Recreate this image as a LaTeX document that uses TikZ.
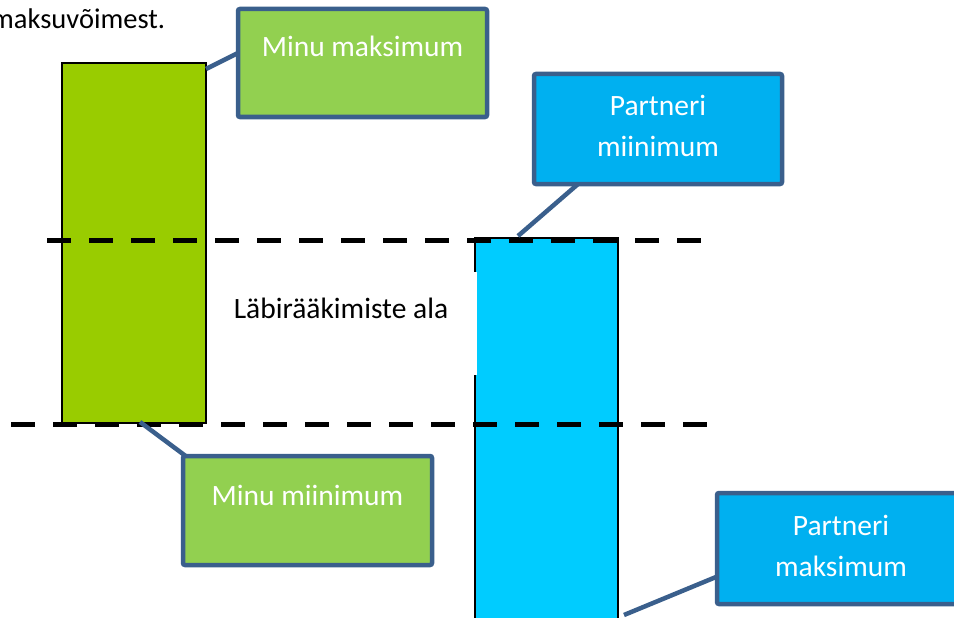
\documentclass[tikz,border=0pt]{standalone}
\usepackage{fontspec}
\setmainfont{Carlito}
\definecolor{barGreen}{HTML}{99CC00}
\definecolor{barBlue}{HTML}{00CCFF}
\definecolor{boxGreen}{HTML}{92D050}
\definecolor{boxBlue}{HTML}{00B0F0}
\definecolor{outline}{HTML}{3A5F8C}
\tikzset{
  bar/.style={draw=black, line width=1.5pt, inner sep=0pt, outer sep=0pt},
  callout/.style={draw=outline, line width=4.5pt, rounded corners=2pt, inner sep=0pt, outer sep=0pt},
  lbl/.style={font=\fontsize{29.5}{35}\selectfont, text=white, anchor=base, inner sep=0pt},
  plain/.style={font=\fontsize{29.5}{35}\selectfont, text=black, inner sep=0pt},
  conn/.style={draw=outline, line width=4.5pt},
  dline/.style={draw=black, line width=5pt, dash pattern=on 24pt off 18pt}
}
\begin{document}
\begin{tikzpicture}[x=1pt,y=-1pt]
\useasboundingbox (0,0) rectangle (954,618);
% top text
\node[plain, anchor=base west] (toptext) at (-9,29) {\fontsize{28.5}{34}\selectfont maksuvõimest.};
% bars
\node[bar, fill=barGreen, minimum width=144pt, minimum height=360pt] (gbar) at (134,243) {};
\node[bar, fill=barBlue, minimum width=143pt, minimum height=410pt] (bbar) at (546.5,443) {};
% negotiation zone text cover
\node[fill=white, inner sep=0pt, minimum width=270pt, minimum height=103pt] (zone) at (342,323.5) {};
\node[plain, anchor=base] (zonetext) at (341,318) {Läbirääkimiste ala};
% dashed lines
\coordinate (t1) at (47,240);
\coordinate (t2) at (701,240);
\coordinate (b1) at (11,424);
\coordinate (b2) at (708,424);
\draw[dline] (t1) -- (t2);
\draw[dline] (b1) -- (b2);
% connectors
\coordinate (c1a) at (206,69);
\coordinate (c1b) at (240,52);
\coordinate (c2a) at (518,236);
\coordinate (c2b) at (585,178);
\coordinate (c3a) at (140,422);
\coordinate (c3b) at (187,457);
\coordinate (c4a) at (624,615);
\coordinate (c4b) at (716,577);
\draw[conn] (c1a) -- (c1b);
\draw[conn] (c2a) -- (c2b);
\draw[conn] (c3a) -- (c3b);
\draw[conn] (c4a) -- (c4b);
% callout boxes
\node[callout, fill=boxGreen, minimum width=249pt, minimum height=108pt] (mmax) at (362.5,63) {};
\node[lbl] (mmaxt) at (362.5,57) {Minu maksimum};
\node[callout, fill=boxBlue, minimum width=248pt, minimum height=110pt] (pmin) at (658,129) {};
\node[lbl] (pmint1) at (658,115) {Partneri};
\node[lbl] (pmint2) at (658,156) {miinimum};
\node[callout, fill=boxGreen, minimum width=249pt, minimum height=109pt] (mmin) at (307.5,510.5) {};
\node[lbl] (mmint) at (307.5,505) {Minu miinimum};
\node[callout, fill=boxBlue, minimum width=248pt, minimum height=111pt] (pmax) at (841,548.5) {};
\node[lbl] (pmaxt1) at (841,535) {Partneri};
\node[lbl] (pmaxt2) at (841,576) {maksimum};
\end{tikzpicture}
\end{document}
